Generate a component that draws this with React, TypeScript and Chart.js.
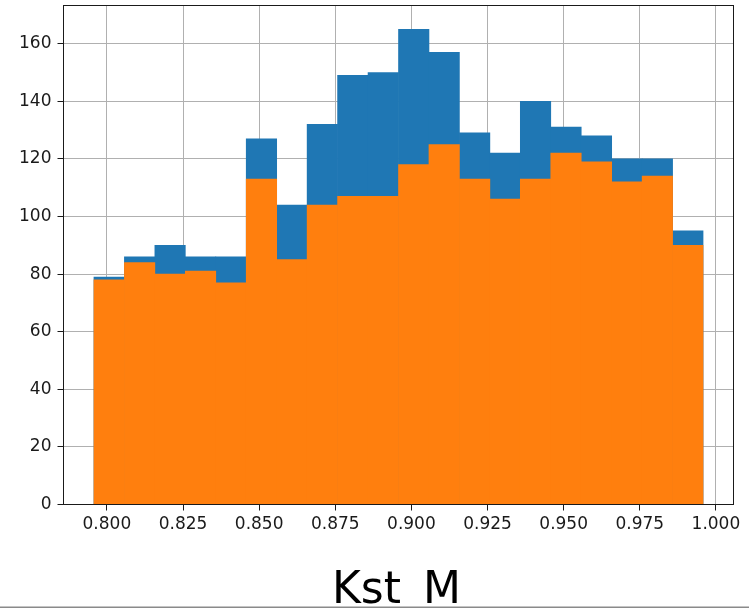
import React, { useEffect, useRef } from "react";
import { Chart, registerables } from "chart.js";

Chart.register(...registerables);

// Histogram bin edges (20 equal bins)
const binEdges = [
  0.79575, 0.80575, 0.81575, 0.82576, 0.83576, 0.84576, 0.85576, 0.86576,
  0.87576, 0.88576, 0.89577, 0.90577, 0.91577, 0.92577, 0.93577, 0.94577,
  0.95577, 0.96578, 0.97578, 0.98578, 0.99578,
];

// Counts per bin for the two overlaid histograms
const countsBlue = [
  79, 86, 90, 86, 86, 127, 104, 132, 149, 150, 165, 157, 129, 122, 140, 131,
  128, 120, 120, 95,
];
const countsOrange = [
  78, 84, 80, 81, 77, 113, 85, 104, 107, 107, 118, 125, 113, 106, 113, 122,
  119, 112, 114, 90,
];

const xTicks = [0.8, 0.825, 0.85, 0.875, 0.9, 0.925, 0.95, 0.975, 1.0];
const yTicks = [0, 20, 40, 60, 80, 100, 120, 140, 160];

const xRange = [0.78575, 1.00578];
const yRange = [0, 173.25];
const xLabel = "Kst_M";

const FONT = "'DejaVu Sans', 'Liberation Sans', sans-serif";

const frameAndLabel = {
  id: "frameAndLabel",
  afterDraw(chart: any) {
    const { ctx, chartArea } = chart;
    ctx.save();
    // axes frame (all four spines)
    ctx.strokeStyle = "#1a1a1a";
    ctx.lineWidth = 1;
    ctx.strokeRect(
      chartArea.left,
      chartArea.top,
      chartArea.right - chartArea.left,
      chartArea.bottom - chartArea.top
    );
    // x axis label
    ctx.fillStyle = "#000";
    ctx.font = `44px ${FONT}`;
    ctx.textAlign = "center";
    ctx.textBaseline = "alphabetic";
    ctx.fillText(xLabel, (chartArea.left + chartArea.right) / 2 - 2, 603);
    // bottom rule
    ctx.fillStyle = "#8a8a8a";
    ctx.fillRect(0, 606.5, chart.width, 1.5);
    ctx.restore();
  },
};

export default function App() {
  const canvasRef = useRef<HTMLCanvasElement | null>(null);

  useEffect(() => {
    if (!canvasRef.current) return;
    const centers = binEdges.slice(0, -1).map((e, i) => (e + binEdges[i + 1]) / 2);

    const gridOpts = {
      color: "#b0b0b0",
      lineWidth: 1,
      tickColor: "#1a1a1a",
      tickLength: 6,
      drawTicks: true,
      offset: false,
    };

    const chart = new Chart(canvasRef.current, {
      type: "bar",
      data: {
        datasets: [
          {
            label: "orange",
            data: centers.map((x, i) => ({ x, y: countsOrange[i] })),
            backgroundColor: "#ff7f0e",
            borderWidth: 0,
            barPercentage: 1,
            categoryPercentage: 1,
            grouped: false,
            order: 0,
          },
          {
            label: "blue",
            data: centers.map((x, i) => ({ x, y: countsBlue[i] })),
            backgroundColor: "#1f77b4",
            borderWidth: 0,
            barPercentage: 1,
            categoryPercentage: 1,
            grouped: false,
            order: 1,
          },
        ],
      } as any,
      options: {
        animation: false,
        responsive: false,
        devicePixelRatio: 1,
        layout: { padding: { left: 0, top: 5.5, right: 15.5, bottom: 0 } },
        plugins: {
          legend: { display: false },
          tooltip: { enabled: false },
        },
        scales: {
          x: {
            type: "linear",
            min: xRange[0],
            max: xRange[1],
            offset: false,
            z: 1,
            grid: gridOpts,
            border: { display: true, color: "#1a1a1a", width: 1 },
            ticks: {
              color: "#1a1a1a",
              font: { family: FONT, size: 17 },
              padding: 4,
              maxRotation: 0,
              autoSkip: false,
              callback: (v: any) => Number(v).toFixed(3),
            },
            afterBuildTicks: (s: any) => {
              s.ticks = xTicks.map((value) => ({ value }));
            },
            afterFit: (s: any) => {
              s.height = 105.5;
              s.paddingLeft = 0;
              s.paddingRight = 0;
            },
          },
          y: {
            type: "linear",
            min: yRange[0],
            max: yRange[1],
            z: 1,
            grid: gridOpts,
            border: { display: true, color: "#1a1a1a", width: 1 },
            ticks: {
              color: "#1a1a1a",
              font: { family: FONT, size: 17 },
              padding: 6,
              autoSkip: false,
              callback: (v: any) => String(v),
            },
            afterBuildTicks: (s: any) => {
              s.ticks = yTicks.map((value) => ({ value }));
            },
            afterFit: (s: any) => {
              s.width = 63.5;
              s.paddingTop = 0;
              s.paddingBottom = 0;
            },
          },
        },
      } as any,
      plugins: [frameAndLabel],
    });

    return () => chart.destroy();
  }, []);

  return (
    <div style={{ position: "absolute", left: 0, top: 0, width: 749, height: 610, background: "#fff" }}>
      <canvas ref={canvasRef} width={749} height={610} style={{ display: "block", width: 749, height: 610 }} />
    </div>
  );
}
